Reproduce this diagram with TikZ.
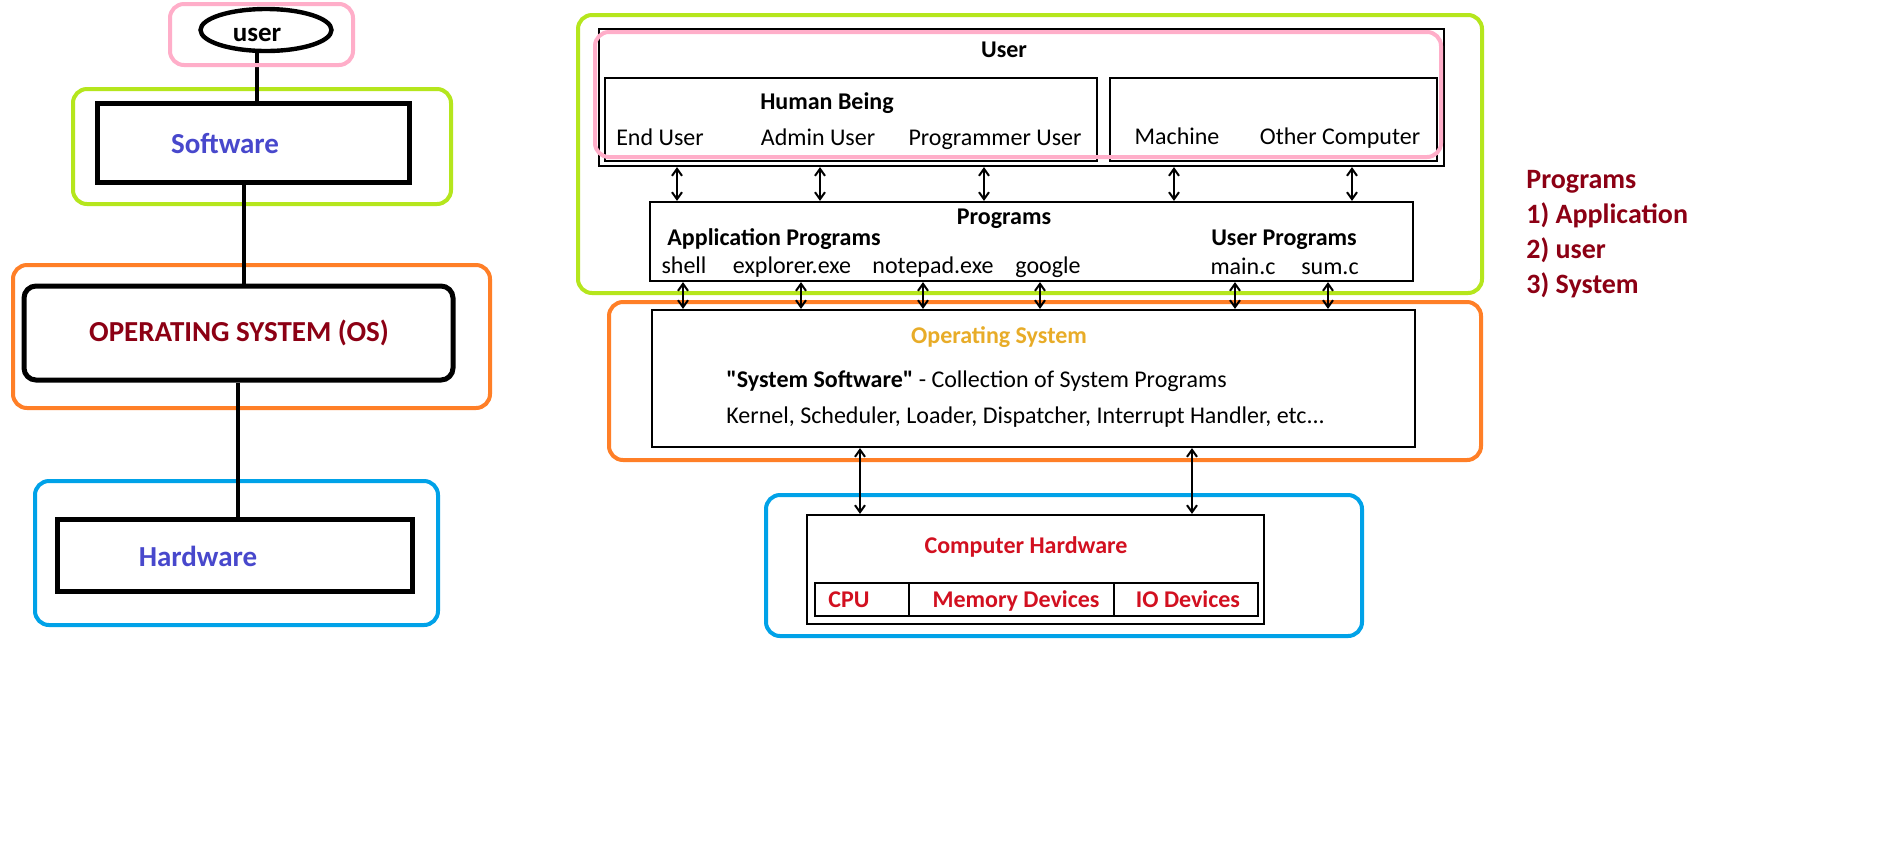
\documentclass[tikz,border=0pt]{standalone}
\usepackage{fontspec}
\setmainfont{Carlito}
\usetikzlibrary{arrows.meta,fit,shapes.geometric}
\definecolor{gpink}{RGB}{255,174,201}
\definecolor{ggreen}{RGB}{181,230,29}
\definecolor{gorange}{RGB}{255,127,39}
\definecolor{gblue}{RGB}{0,162,232}
\definecolor{tblue}{RGB}{72,72,204}
\definecolor{tdred}{RGB}{140,0,20}
\definecolor{tgold}{RGB}{232,172,40}
\definecolor{tred}{RGB}{210,16,32}
\tikzset{
  x=0.5pt,y=-0.5pt,
  group/.style={draw, line width=2pt, rounded corners=7pt, inner sep=0pt},
  bigbox/.style={draw, line width=2.5pt, inner sep=0pt},
  smallbox/.style={draw, line width=1.1pt, inner sep=0pt},
  conn/.style={line width=2pt},
  dbl/.style={line width=1pt, {Straight Barb[length=3.5pt,width=5pt]}-{Straight Barb[length=3.5pt,width=5pt]}},
  lt/.style={font=\fontsize{14.5}{17}\selectfont\bfseries, inner sep=0pt, anchor=base},
  rt/.style={font=\fontsize{12}{14}\selectfont, inner sep=0pt, anchor=base},
  rtb/.style={font=\fontsize{12}{14}\selectfont\bfseries, inner sep=0pt, anchor=base},
  plist/.style={font=\fontsize{14}{17}\selectfont\bfseries, text=tdred, inner sep=0pt, anchor=base west},
}
\begin{document}
\begin{tikzpicture}
\fill[white] (0,0) rectangle (1894,848);
\useasboundingbox (0,0) rectangle (1894,848);

% ---------------- left diagram ----------------
\node[group, draw=ggreen, fit={(73,89) (451,204)}] (lgreen) {};
\node[group, draw=gorange, fit={(13,265) (490,408)}] (lorange) {};
\node[group, draw=gblue, fit={(35,481) (438,625)}] (lblue) {};

\node[draw, ellipse, line width=2.2pt, minimum width=65.5pt, minimum height=21pt, inner sep=0pt] (uell) at (266,30) {};
\node[bigbox, fit={(97,103) (409,182)}] (sw) {};
\node[bigbox, rounded corners=6pt, fit={(24,286) (453,380)}] (os) {};
\node[bigbox, fit={(57,519) (412,591)}] (hwl) {};

\draw[conn] ([xshift=-4.5pt]uell.south) -- ([xshift=2pt]sw.north);
\draw[conn] ([xshift=-4.5pt]sw.south) -- ([xshift=2.75pt]os.north);
\draw[conn] ([xshift=-0.25pt]os.south) -- ([xshift=1.75pt]hwl.north);

\node[group, draw=gpink, fit={(170,4) (353,65)}] (lpink) {};

\node[lt, font=\fontsize{13.5}{16}\selectfont\bfseries] (utxt) at (257,41) {user};
\node[lt, text=tblue] (swtxt) at (225,153) {Software};
\node[lt, text=tdred] (ostxt) at (239,341) {OPERATING SYSTEM (OS)};
\node[lt, text=tblue] (hwtxt) at (198,566) {Hardware};

% ---------------- right diagram ----------------
\node[group, draw=ggreen, fit={(578,15) (1482,293)}] (rgreen) {};
\node[group, draw=gorange, fit={(609,302) (1481,460)}] (rorange) {};
\node[group, draw=gblue, fit={(766,495) (1362,636)}] (rblue) {};

\node[smallbox, fit={(599,29) (1444,166)}] (user) {};
\node[smallbox, fit={(605,78) (1097,161)}] (human) {};
\node[smallbox, fit={(1110,78) (1437,161)}] (machine) {};
\node[smallbox, fit={(650,202) (1413,281)}] (prog) {};
\node[smallbox, fit={(652,310) (1415,447)}] (ros) {};
\node[smallbox, fit={(807,515) (1264,624)}] (rhw) {};
\node[smallbox, fit={(815,583) (909,616)}] (cpu) {};
\node[smallbox, fit={(909,583) (1114,616)}] (mem) {};
\node[smallbox, fit={(1114,583) (1258,616)}] (io) {};

\foreach \x in {677,820,984,1174,1352} {
  \coordinate (t) at (\x,0);
  \draw[dbl] (user.south -| t) -- (prog.north -| t);
}
\foreach \x in {683,801,923,1040,1235,1328} {
  \coordinate (t) at (\x,0);
  \draw[dbl] (prog.south -| t) -- (ros.north -| t);
}
\foreach \x in {860,1192} {
  \coordinate (t) at (\x,0);
  \draw[dbl] (ros.south -| t) -- (rhw.north -| t);
}

\node[group, draw=gpink, fit={(595,32) (1441,157)}] (rpink) {};

\node[rtb] (tuser) at (1004,57) {User};
\node[rtb] (thuman) at (827,109) {Human Being};
\node[rt] (tend) at (660,145) {End User};
\node[rt] (tadmin) at (818,145) {Admin User};
\node[rt] (tprogu) at (995,145) {Programmer User};
\node[rt] (tmach) at (1177,144) {Machine};
\node[rt] (tother) at (1340,144) {Other Computer};

\node[rtb] (tprog) at (1004,224) {Programs};
\node[rtb] (tapp) at (774,245) {Application Programs};
\node[rt] (tshell) at (684,273) {shell};
\node[rt] (texpl) at (792,273) {explorer.exe};
\node[rt] (tnote) at (933,273) {notepad.exe};
\node[rt] (tgoog) at (1048,273) {google};
\node[rtb] (tuprog) at (1284,245) {User Programs};
\node[rt] (tmain) at (1243,274) {main.c};
\node[rt] (tsum) at (1330,274) {sum.c};

\node[rtb, text=tgold] (tos) at (999,343) {Operating System};
\node[rt, anchor=base west] (tsys) at (726,387) {\textbf{\textquotedbl System Software\textquotedbl} - Collection of System Programs};
\node[rt, anchor=base west] (tkern) at (726,423) {Kernel, Scheduler, Loader, Dispatcher, Interrupt Handler, etc...};

\node[rtb, text=tred] (tch) at (1026,553) {Computer Hardware};
\node[rtb, text=tred] (tcpu) at (849,607) {CPU};
\node[rtb, text=tred] (tmem) at (1016,607) {Memory Devices};
\node[rtb, text=tred] (tio) at (1188,607) {IO Devices};

% ---------------- programs list ----------------
\node[plist] (pl0) at (1526,188) {Programs};
\node[plist] (pl1) at (1526,223) {1) Application};
\node[plist] (pl2) at (1526,258) {2) user};
\node[plist] (pl3) at (1526,293) {3) System};
\end{tikzpicture}
\end{document}
